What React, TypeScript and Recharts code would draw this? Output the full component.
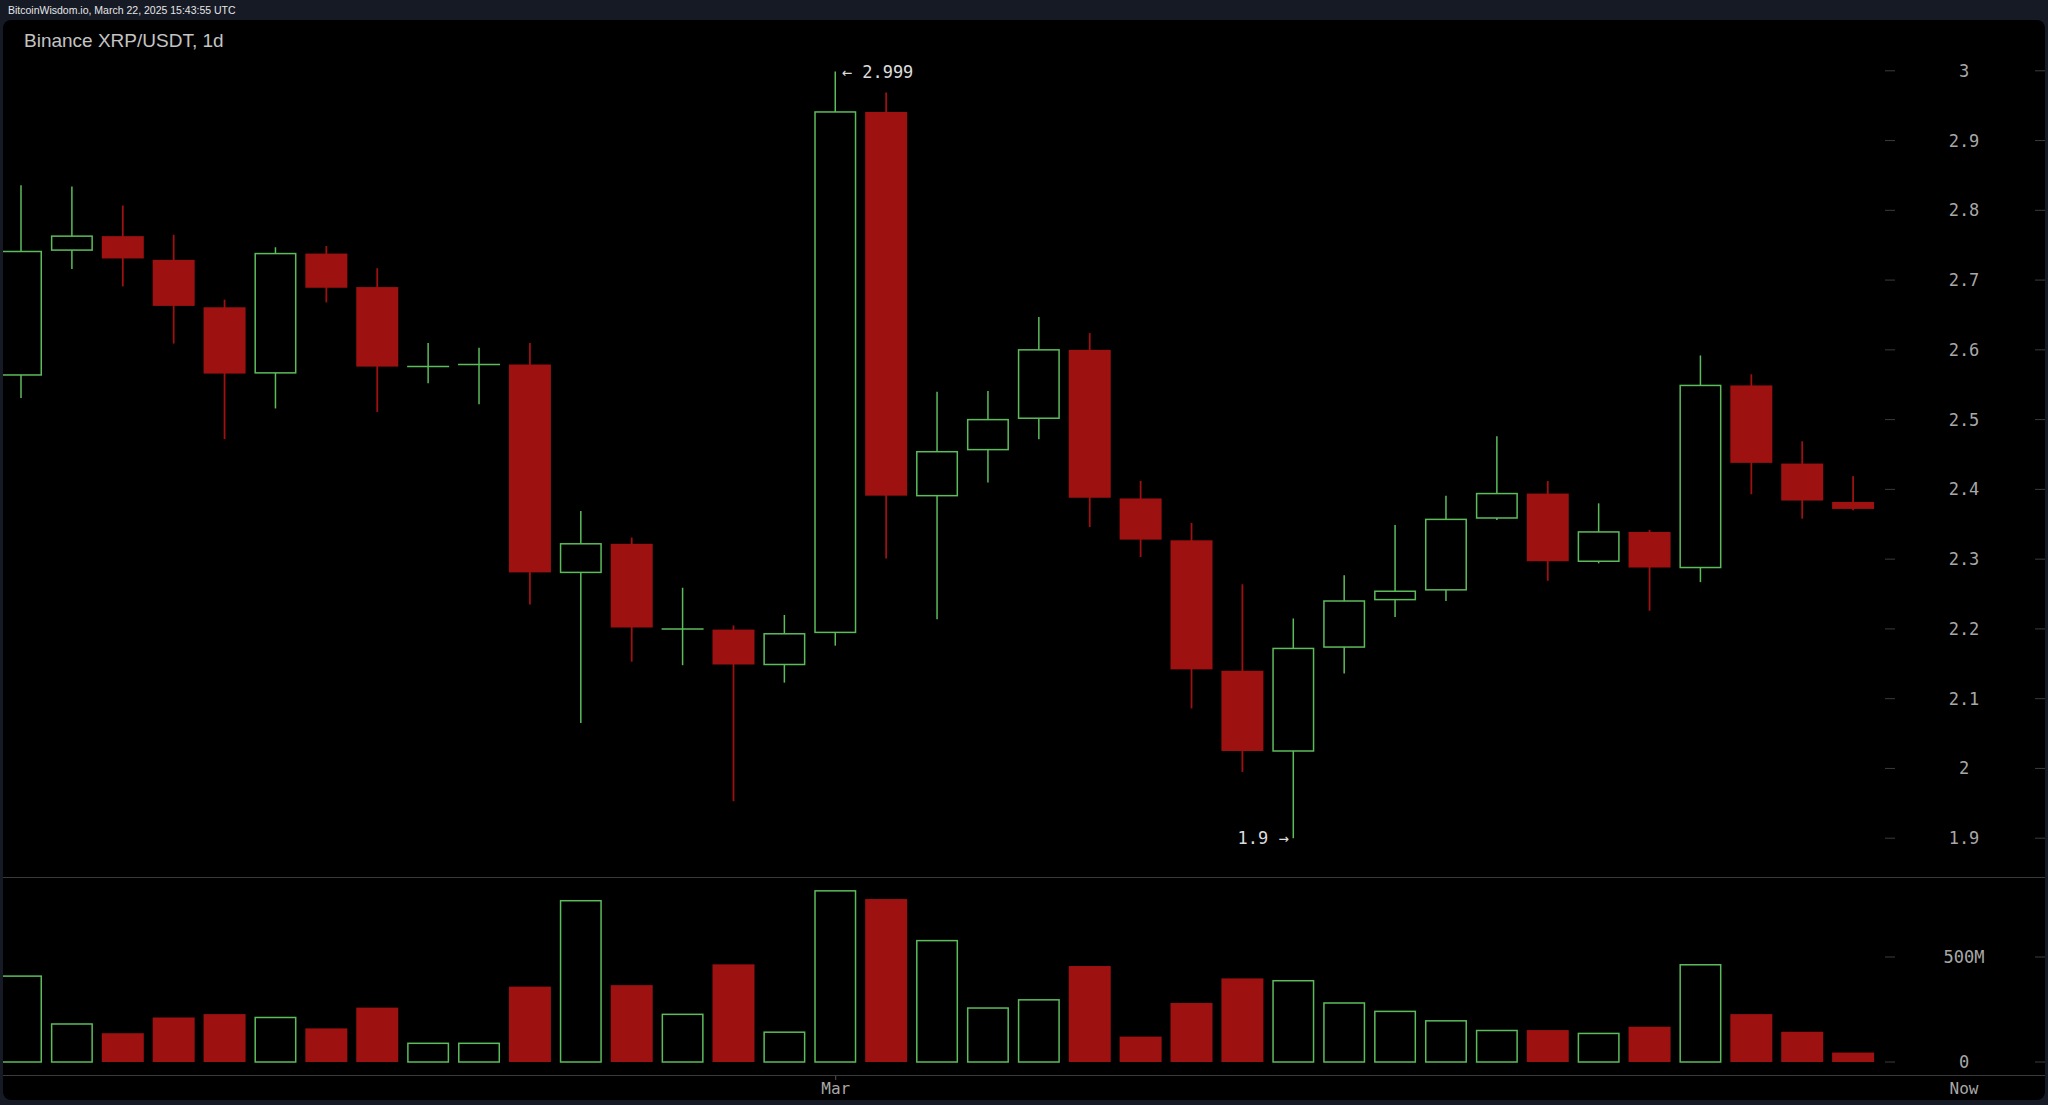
import { ComposedChart, BarChart, Bar, XAxis, YAxis, ReferenceDot } from 'recharts';

// daily candles, Feb 13 .. Mar 21 2025
const dates = [
  'Feb 13', 'Feb 14', 'Feb 15', 'Feb 16', 'Feb 17', 'Feb 18', 'Feb 19', 'Feb 20', 'Feb 21', 'Feb 22',
  'Feb 23', 'Feb 24', 'Feb 25', 'Feb 26', 'Feb 27', 'Feb 28', 'Mar 1', 'Mar 2', 'Mar 3', 'Mar 4',
  'Mar 5', 'Mar 6', 'Mar 7', 'Mar 8', 'Mar 9', 'Mar 10', 'Mar 11', 'Mar 12', 'Mar 13', 'Mar 14',
  'Mar 15', 'Mar 16', 'Mar 17', 'Mar 18', 'Mar 19', 'Mar 20', 'Mar 21',
];
const opens = [
  2.564, 2.743, 2.763, 2.729, 2.661, 2.567, 2.738, 2.69, 2.576, 2.579,
  2.579, 2.281, 2.322, 2.2, 2.199, 2.149, 2.195, 2.941, 2.391, 2.457,
  2.502, 2.6, 2.387, 2.327, 2.14, 2.025, 2.174, 2.242, 2.256, 2.359,
  2.394, 2.297, 2.339, 2.288, 2.549, 2.437, 2.382,
];
const highs = [
  2.836, 2.834, 2.807, 2.765, 2.672, 2.747, 2.749, 2.717, 2.61, 2.603,
  2.61, 2.369, 2.331, 2.259, 2.205, 2.22, 2.999, 2.969, 2.54, 2.541,
  2.647, 2.624, 2.412, 2.352, 2.264, 2.215, 2.277, 2.349, 2.391, 2.476,
  2.412, 2.38, 2.342, 2.592, 2.565, 2.469, 2.419,
];
const lows = [
  2.531, 2.716, 2.691, 2.609, 2.472, 2.516, 2.668, 2.511, 2.552, 2.522,
  2.235, 2.065, 2.153, 2.148, 1.953, 2.123, 2.176, 2.301, 2.214, 2.41,
  2.472, 2.346, 2.303, 2.086, 1.995, 1.9, 2.136, 2.217, 2.24, 2.356,
  2.269, 2.294, 2.226, 2.267, 2.393, 2.358, 2.37,
];
const closes = [
  2.741, 2.763, 2.731, 2.663, 2.566, 2.738, 2.689, 2.576, 2.576, 2.579,
  2.281, 2.322, 2.202, 2.2, 2.149, 2.193, 2.941, 2.391, 2.454, 2.5,
  2.6, 2.388, 2.328, 2.142, 2.025, 2.172, 2.24, 2.254, 2.357, 2.394,
  2.297, 2.339, 2.288, 2.549, 2.438, 2.384, 2.372,
];
// volume in millions
const volumes = [
  409, 181, 137, 212, 228, 212, 160, 259, 89, 89,
  359, 768, 366, 227, 465, 142, 815, 776, 578, 257,
  296, 457, 121, 281, 398, 387, 281, 241, 196, 150,
  152, 136, 168, 463, 228, 144, 45,
];

const priceTicks = [1.9, 2, 2.1, 2.2, 2.3, 2.4, 2.5, 2.6, 2.7, 2.8, 2.9, 3];
const volumeTicks = [0, 500];
const monthTicks = ['Mar 1'];

const GREEN = '#5cbc5c';
const RED = '#9d1111';
const MONO = '"DejaVu Sans Mono", monospace';

const data = dates.map((d, i) => ({
  date: d,
  open: opens[i],
  high: highs[i],
  low: lows[i],
  close: closes[i],
  range: [lows[i], highs[i]],
  volume: volumes[i],
}));

function Candle(props: any) {
  const { x, y, width, height, payload } = props;
  const { open, close, high, low } = payload;
  const top = Math.min(y, y + height);
  const h = Math.abs(height);
  const k = h / (high - low);
  const yO = top + (high - open) * k;
  const yC = top + (high - close) * k;
  const bTop = Math.min(yO, yC);
  const bBot = Math.max(yO, yC);
  const cx = x + width / 2;
  const up = close >= open;
  if (up) {
    return (
      <g>
        <line x1={cx} x2={cx} y1={top} y2={bTop} stroke={GREEN} strokeWidth={1.5} />
        <line x1={cx} x2={cx} y1={bBot} y2={top + h} stroke={GREEN} strokeWidth={1.5} />
        {bBot - bTop < 1.5 ? (
          <line x1={x} x2={x + width} y1={bTop} y2={bTop} stroke={GREEN} strokeWidth={1.5} />
        ) : (
          <rect x={x + 0.75} y={bTop} width={width - 1.5} height={bBot - bTop} fill="none" stroke={GREEN} strokeWidth={1.5} />
        )}
      </g>
    );
  }
  return (
    <g>
      <line x1={cx} x2={cx} y1={top} y2={top + h} stroke={RED} strokeWidth={1.8} />
      <rect x={x} y={bTop} width={width} height={Math.max(bBot - bTop, 2)} fill={RED} />
    </g>
  );
}

function VolBar(props: any) {
  const { x, y, width, height, payload } = props;
  const up = payload.close >= payload.open;
  if (up) {
    return <rect x={x + 0.75} y={y} width={width - 1.5} height={height} fill="none" stroke={GREEN} strokeWidth={1.5} />;
  }
  return <rect x={x} y={y} width={width} height={height} fill={RED} />;
}

const axisTick = (fmt: (v: number) => string) => (props: any) => {
  const { x, y, payload } = props;
  return (
    <g>
      <line x1={x} x2={x + 10} y1={y} y2={y} stroke="#3c3c3c" />
      <text x={x + 79} y={y} textAnchor="middle" dominantBaseline="central" fill="#a8a8a8" fontSize={17} fontFamily={MONO}>
        {fmt(payload.value)}
      </text>
      <line x1={x + 150} x2={x + 165} y1={y} y2={y} stroke="#3c3c3c" />
    </g>
  );
};

const MonthTick = (props: any) => {
  const { x, y } = props;
  return (
    <g>
      <line x1={x} x2={x} y1={y + 14} y2={y + 18} stroke="#555" />
      <text x={x} y={y + 26} textAnchor="middle" dominantBaseline="central" fill="#a8a8a8" fontSize={16} fontFamily={MONO}>
        Mar
      </text>
    </g>
  );
};

export default function App() {
  return (
    <div style={{ position: 'fixed', left: 0, top: 0, width: 2048, height: 1105, background: '#151a25', overflow: 'hidden', fontFamily: '"Liberation Sans", Arial, sans-serif' }}>
      <div style={{ position: 'absolute', left: 8, top: 4, fontSize: 10.5, color: '#e6e6e6', lineHeight: '13px' }}>
        BitcoinWisdom.io, March 22, 2025 15:43:55 UTC
      </div>
      <div style={{ position: 'absolute', left: 3, top: 20, width: 2042, height: 1080, background: '#000', borderRadius: 8, overflow: 'hidden' }}>
        <div style={{ position: 'absolute', left: 21, top: 9, fontSize: 19, color: '#c4c4c4', lineHeight: '24px' }}>
          Binance XRP/USDT, 1d
        </div>

        <div style={{ position: 'absolute', left: -13, top: -20 }}>
          <ComposedChart width={2058} height={878} data={data} margin={{ top: 70.8, right: 0, bottom: 39.8, left: 6 }}>
            <XAxis dataKey="date" hide padding={{ left: 0, right: 6 }} />
            <YAxis
              orientation="right"
              width={163}
              domain={[1.9, 3]}
              ticks={priceTicks}
              axisLine={false}
              tickLine={false}
              tickSize={0}
              tickMargin={0}
              tick={axisTick((v) => String(v))}
            />
            <Bar dataKey="range" barSize={42} shape={Candle} isAnimationActive={false} />
            <ReferenceDot
              x="Mar 1"
              y={2.999}
              r={1}
              fill="none"
              stroke="none"
              ifOverflow="visible"
              label={{ value: '← 2.999', position: 'right', offset: 5, fill: '#dcdcdc', fontSize: 17, fontFamily: MONO }}
            />
            <ReferenceDot
              x="Mar 10"
              y={1.9}
              r={1}
              fill="none"
              stroke="none"
              ifOverflow="visible"
              label={{ value: '1.9 →', position: 'left', offset: 4, fill: '#dcdcdc', fontSize: 17, fontFamily: MONO }}
            />
          </ComposedChart>
        </div>

        <div style={{ position: 'absolute', left: 0, top: 857, width: 2042, height: 1, background: '#3a3a3a' }} />

        <div style={{ position: 'absolute', left: -13, top: 832 }}>
          <BarChart width={2058} height={252} data={data} margin={{ top: 0, right: 0, bottom: 0, left: 6 }}>
            <XAxis
              dataKey="date"
              ticks={monthTicks}
              interval={0}
              height={42}
              axisLine={false}
              tickLine={false}
              tickSize={0}
              tickMargin={0}
              padding={{ left: 0, right: 6 }}
              tick={MonthTick}
            />
            <YAxis
              orientation="right"
              width={163}
              domain={[0, 1000]}
              ticks={volumeTicks}
              axisLine={false}
              tickLine={false}
              tickSize={0}
              tickMargin={0}
              tick={axisTick((v) => (v === 0 ? '0' : `${v}M`))}
            />
            <Bar dataKey="volume" barSize={42} shape={VolBar} isAnimationActive={false} />
          </BarChart>
        </div>

        <div style={{ position: 'absolute', left: 0, top: 1055, width: 2042, height: 1, background: '#3a3a3a' }} />
        <div style={{ position: 'absolute', left: 1961 - 40, top: 1058, width: 80, textAlign: 'center', fontFamily: MONO, fontSize: 16, color: '#a8a8a8', lineHeight: '22px' }}>
          Now
        </div>
      </div>
    </div>
  );
}
